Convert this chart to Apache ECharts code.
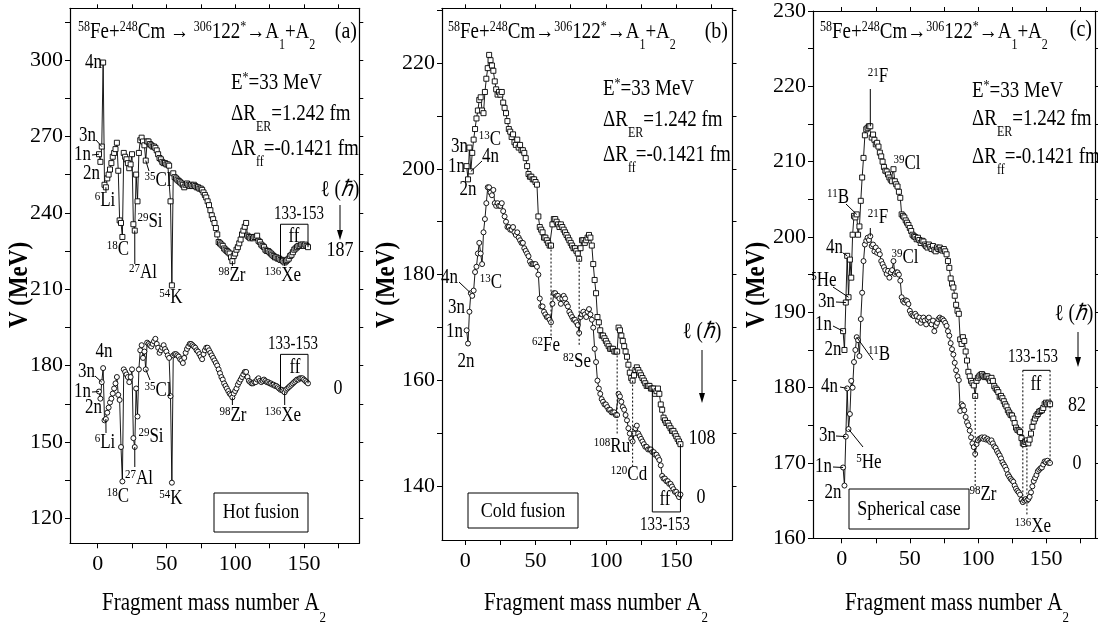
<!DOCTYPE html>
<html>
<head>
<meta charset="utf-8">
<script src="https://cdn.jsdelivr.net/npm/echarts@6/dist/echarts.min.js"></script>
<style>
  html, body { margin: 0; background: #fff; }
  #chart { width: 1098px; height: 632px; }
</style>
</head>
<body>
<div id="chart"></div>
<script>
// fragment mass number A2
const massA = [
  1,2,3,4,5,6,7,8,9,10,11,12,13,14,15,16,17,18,19,20,
  21,22,23,24,25,26,27,28,29,30,31,32,33,34,35,36,37,38,39,40,
  41,42,43,44,45,46,47,48,49,50,51,52,53,54,55,56,57,58,59,60,
  61,62,63,64,65,66,67,68,69,70,71,72,73,74,75,76,77,78,79,80,
  81,82,83,84,85,86,87,88,89,90,91,92,93,94,95,96,97,98,99,100,
  101,102,103,104,105,106,107,108,109,110,111,112,113,114,115,116,117,118,119,120,
  121,122,123,124,125,126,127,128,129,130,131,132,133,134,135,136,137,138,139,140,
  141,142,143,144,145,146,147,148,149,150,151,152,153
];

// (a) hot fusion, l = 187 and l = 0
const hotL187 = [
  263,260,266,299,251,250,253.5,255,257,259.5,
  262,263.5,265,267.5,256.5,237,236,230.5,263.5,262,
  261,259.5,257.5,259,263,235.5,233,255,244.5,263.5,
  268.5,269.5,268,266.5,260.5,268,268,267,266.5,266,
  266,265.5,264.5,263,261.5,261,260,259.5,259.5,259,
  259,258.5,244.5,211.5,255.5,254,253.5,253,252.5,252,
  251.5,251,250,251,251.5,251,250.5,251,250.5,251,
  250.5,250,250,249.5,249.5,249,248,247,246,244.5,
  243,241,239,237.5,236,234,231.5,228.5,228,227.5,
  227,226,225.5,225,224.5,224,222.5,221,223,224,
  225.5,226.5,228,229.5,231.5,233,234.5,236,231,230.5,
  230,230.5,230,230.5,230.5,231,229,228.5,227.5,227,
  226.5,225.5,225,225,224.5,224,223.5,223,222.5,222.5,
  222,222,221.5,221.5,221,220.5,221,221.5,222,223,
  223.5,224.5,225.5,226,226.5,227,227,227.5,227.5,227,
  227.5,227,226.5
];
const hotL0 = [
  169.8,167,173.5,179,158.5,159,161.5,163.5,165.5,167,
  169,171,173,175.5,168.5,166.5,148,134.5,178.5,177.5,
  176.5,175.5,173.5,175.5,178.5,151.5,148,171,160,178.5,
  186,188,183,185.5,178.5,189,188.5,188,187.5,188.5,
  189.5,190.5,188.5,187,185,186,187,188,186.5,185.5,
  184,183,168,134,184,184.5,184.5,184,183.5,182.5,
  182,181,183,185,186.5,187.5,188.5,188.5,188,187.5,
  187,186,185.5,184.5,183.5,182.5,184.5,186,187,187,
  186,185,184,183,182,181,180,178.5,177,175.5,
  174.5,173,172,171,170,169,168.5,167.5,169,170,
  171,172.5,173.5,174.5,175.5,176.5,177.5,177.5,175.5,174,
  173.5,173,173,173.5,173.5,174.5,175,174,173.5,174,
  174.5,174,173.5,173.5,173,173,172.5,172.5,172,172,
  171.5,171,170.5,170.5,170,169.5,170.5,171,171.5,172,
  172.5,173,173.5,174,174.5,174.5,175,175,175,174.5,
  174,173.5,173
];

// (b) cold fusion, l = 108 and l = 0
const coldL108 = [
  200.5,198,204,199.5,203,205.5,207.5,209.5,211,213,
  213.5,211,210.5,214.5,217,219,221.5,220.5,219.5,218.5,
  216.5,215,214,214.5,214,214.5,212.5,211.5,210.5,209,
  207.5,207,206,206.5,205,204.5,205.5,204,204.5,203.5,
  203.5,203,202,200.5,199,198.5,198.5,198,198,197.5,
  197,191,189,188.5,188,187,187,186.5,186,185.5,
  185.5,189.5,190.5,190.5,190,189.5,189,189.5,189,188.5,
  188,187.5,187,186.5,186,185.5,185,185,184.5,184,
  183,185,186.5,186.5,186,186.5,187,187.5,187,185.5,
  182,179,176.5,172,171,169.5,168.5,168.5,168,167.5,
  167,166.5,166,166,166,165.5,165.5,165.5,170,169.5,
  168.5,167.5,166.5,165.5,164.5,163,161.5,160.5,160,161,
  162,162.5,162,161.5,161,160.5,160,159.5,159,159,
  159,158.5,158.5,158.5,157.5,158,158.5,157.5,155.5,154.5,
  153,152.5,152,152,151.5,151,150.5,150.5,150,149.5,
  149,148.5,148
];
const coldL0 = [
  169.5,167,173,176.5,176,177,180.5,181.5,184,186,
  184,182,188,190.5,193.5,196.5,196.5,195.5,195,196,
  193.5,193,193.5,193,193,193.5,192,191,190,189,
  189,188.5,188.5,189,188,187.5,188,187,186.5,186,
  186,185,184.5,184,183.5,182.5,182,182,182,182,
  181.5,180,175.5,174,174,173,172.5,172,172,171.5,
  171,174.5,176.5,176.5,176,176,175.5,174.5,175.5,176,
  175.5,174.5,174,173,172.5,172,171.5,171.5,171,170.5,
  169,172,172.5,173,172.5,172,173,173.5,172.5,171.5,
  170,166,163.5,160,158.5,157.5,156.5,156,155.5,155.5,
  155,154.5,154.5,154,154,154,153.5,153.5,157.5,157,
  156,155,154.5,153.5,152.5,151,150,149,148.5,150,
  151,151.5,150,149.5,149,148.5,148,147.5,147.5,147,
  147,147,146.5,146.5,146,146,145.5,145,144,142,
  141.5,141.5,141,141,140.5,140.5,140,139.5,139,139,
  138.5,138,138.5
];

// (c) spherical case, l = 82 and l = 0
const sphL82 = [
  187.5,185,191.3,197.5,192,197,194.6,200.3,202.8,202.6,
  203,200.3,201.4,204.8,207.9,210.5,213.5,214.3,214.5,214.7,
  214.7,213.2,213.6,212.9,212.3,212.5,212,211.2,210.7,210,
  209.3,208.8,208.7,208.3,207.9,207.6,207.4,209,207.4,207,
  206.7,206,205.2,203,202.8,202.6,202.2,201.9,201.6,201.2,
  200.8,200.3,200.1,200,199.7,199.9,199.6,199.2,199.5,199.4,
  199,198.8,198.6,199,198.7,198.4,198.8,198.3,198.1,198.6,
  198.4,198.6,198.3,198.2,198.4,198.1,197.7,196.8,195.9,194.5,
  193.8,193.3,192.2,191,190.2,189.8,186.4,185.8,186.7,186.2,
  184.8,183.6,182.1,181.5,180.9,180.6,180.3,178.9,180.9,181.3,
  181.5,181.7,181.8,181.6,181.4,181.5,181.5,181.2,180.9,181.3,
  180.9,180.2,179.9,179.7,179.4,178.8,178.9,178.6,178.2,177.8,
  177.5,177,176.7,176.4,176.3,175.9,175.3,174.7,174.4,174.3,
  174.1,173.3,172.6,172.5,172.8,173,172.6,173.1,173.9,174.8,
  175.5,175.9,176.3,176.5,176.8,176.9,177,177.3,177.8,178,
  177.8,178,177.8
];
const sphL0 = [
  169.4,167,173.5,179.9,174.5,176.5,180.9,180,183.4,185,
  186.7,186.3,184.2,189.1,192.6,196.8,199,199.5,199.9,199.6,
  200.1,198.8,199,198.1,198.6,197.9,198.2,197.7,196.8,196.4,
  196,195.6,195.1,195.5,194.6,195.3,195.6,196.8,195.1,195.3,
  195.3,195,194.2,192,191.5,191.3,191.6,191.5,191.1,190.2,
  189.8,189.6,189.5,189.8,189.5,188.9,189.3,188.6,189,189.3,
  188.9,188.4,189.1,189.3,188.7,188.4,188.9,187.5,188.2,188.6,
  189.1,189.3,189.1,189.1,188.9,188.6,188.2,187.5,186.9,185.9,
  185.1,184.4,183.3,182.3,181.5,181,176.9,177.8,177.6,177,
  176.1,175.4,175,174.3,173.4,172.6,172.1,171.2,172.5,173,
  173.2,173.3,173.4,173.2,173.4,173.1,173.2,173,172.8,173,
  172.6,172.2,172,171.6,171.3,171,170.6,170.1,169.8,169.5,
  169.1,168.5,168.2,167.9,167.7,167.5,167,166.6,166.3,166.1,
  165.8,165.1,164.8,165,165.2,165,165.2,165.5,166.1,166.9,
  167.6,168,168.4,168.9,169.1,169.3,169.4,169.8,170.2,170.1,
  170.3,170,170
];

// axis ticks and labels
const xTicks = [0, 25, 50, 75, 100, 125, 150, 175];
const xLabels = [0, 50, 100, 150];
const yTicksA = [120,135,150,165,180,195,210,225,240,255,270,285,300,315];
const yLabelsA = [120,150,180,210,240,270,300];
const yTicksB = [140,150,160,170,180,190,200,210,220,230];
const yLabelsB = [140,160,180,200,220];
const yTicksC = [160,165,170,175,180,185,190,195,200,205,210,215,220,225,230];
const yLabelsC = [160,170,180,190,200,210,220,230];

const F = '"Liberation Serif","Times New Roman",serif';

const panels = [
  { grid: { left: 70, top: 8.3, width: 289.3, height: 535 }, x: [-20.1, 190.3], y: [110.2, 320.3],
    ticks: yTicksA, labels: yLabelsA, up: hotL187, lo: hotL0 },
  { grid: { left: 442, top: 8.3, width: 290.5, height: 531.7 }, x: [-16.5, 190], y: [129.9, 230.3],
    ticks: yTicksB, labels: yLabelsB, up: coldL108, lo: coldL0 },
  { grid: { left: 813, top: 10, width: 282, height: 528.3 }, x: [-21.1, 186], y: [160, 230],
    ticks: yTicksC, labels: yLabelsC, up: sphL82, lo: sphL0 }
];

const axisLine = { onZero: false, lineStyle: { color: '#000', width: 1.2 } };
const tickStyle = { color: '#000', width: 1 };

const grids = [], xAxes = [], yAxes = [], series = [];
panels.forEach((p, g) => {
  grids.push(p.grid);
  xAxes.push({
    type: 'value', gridIndex: g, min: p.x[0], max: p.x[1],
    axisLine: axisLine, splitLine: { show: false },
    axisTick: { length: 5, customValues: xTicks, lineStyle: tickStyle },
    axisLabel: { customValues: xLabels, fontFamily: F, fontSize: 22, color: '#000', margin: 10 }
  });
  xAxes.push({
    type: 'value', gridIndex: g, position: 'top', min: p.x[0], max: p.x[1],
    axisLine: axisLine, splitLine: { show: false },
    axisTick: { length: 4, customValues: xTicks, lineStyle: tickStyle },
    axisLabel: { show: false }
  });
  yAxes.push({
    type: 'value', gridIndex: g, min: p.y[0], max: p.y[1],
    axisLine: axisLine, splitLine: { show: false },
    axisTick: { length: 5, customValues: p.ticks, lineStyle: tickStyle },
    axisLabel: { customValues: p.labels, fontFamily: F, fontSize: 22, color: '#000', margin: 7 }
  });
  yAxes.push({
    type: 'value', gridIndex: g, position: 'right', min: p.y[0], max: p.y[1],
    axisLine: axisLine, splitLine: { show: false },
    axisTick: { length: 4, customValues: p.ticks, lineStyle: tickStyle },
    axisLabel: { show: false }
  });
  [[p.up, 'rect'], [p.lo, 'circle']].forEach(([vals, sym]) => {
    series.push({
      type: 'line', xAxisIndex: 2 * g, yAxisIndex: 2 * g,
      data: massA.map((a, i) => [a, vals[i]]),
      symbol: sym, symbolSize: 5, showAllSymbol: true,
      lineStyle: { color: '#000', width: 0.9 },
      itemStyle: { color: '#fff', borderColor: '#000', borderWidth: 0.9 },
      emphasis: { disabled: true }
    });
  });
});

const chart = echarts.init(document.getElementById('chart'));
chart.setOption({
  animation: false,
  backgroundColor: '#fff',
  grid: grids, xAxis: xAxes, yAxis: yAxes, series: series
});

// ---- annotations ----
function richFor(size, weight) {
  const s = Math.round(size * 0.62);
  const w = weight || 'normal';
  return {
    n: { fontSize: size, fontFamily: F, fontWeight: w, height: 2 * size, lineHeight: 2 * size, fill: '#000' },
    i: { fontSize: size, fontFamily: F, fontStyle: 'italic', height: 2 * size, lineHeight: 2 * size, fill: '#000' },
    s: { fontSize: s, fontFamily: F, height: 1.55 * size, lineHeight: 1.55 * size, verticalAlign: 'top', fill: '#000' },
    b: { fontSize: s, fontFamily: F, height: 0.8 * size, lineHeight: 0.8 * size, verticalAlign: 'bottom', fill: '#000' }
  };
}
function T(x, y, text, size, align, rot, weight) {
  return {
    type: 'text', x: x, y: y, scaleY: 1.2, rotation: rot || 0, silent: true, z: 10,
    style: { text: text, rich: richFor(size, weight), fontSize: size, fontFamily: F, fill: '#000',
             align: align || 'center', verticalAlign: 'middle',
             textAlign: align || 'center', textVerticalAlign: 'middle' }
  };
}
function L(x1, y1, x2, y2, dash) {
  return { type: 'line', silent: true, z: 9, shape: { x1, y1, x2, y2 },
           style: { stroke: '#000', lineWidth: 1, lineDash: dash ? [2, 2] : null } };
}
function PL(points) {
  return { type: 'polyline', silent: true, z: 9, shape: { points },
           style: { stroke: '#000', lineWidth: 1, fill: null } };
}
function R(x, y, w, h) {
  return { type: 'rect', silent: true, z: 9, shape: { x, y, width: w, height: h },
           style: { stroke: '#000', lineWidth: 1, fill: null } };
}
function arrow(x, y1, y2) {
  return [L(x, y1, x, y2 - 8),
    { type: 'polygon', silent: true, z: 9, shape: { points: [[x - 3, y2 - 10], [x + 3, y2 - 10], [x, y2]] },
      style: { fill: '#000' } }];
}
const P = (g, a, v) => chart.convertToPixel({ seriesIndex: 2 * g }, [a, v]);
const val = (arr, a) => arr[massA.indexOf(a)];
function lead(g, arr, a, tx, ty) {
  const p = P(g, a, val(arr, a));
  return L(p[0], p[1], tx, ty);
}
function ffBox(g, arr, top) {
  return PL([P(g, 133, val(arr, 133)), P(g, 133, top), P(g, 153, top), P(g, 153, val(arr, 153))]);
}
function dots(g, a, v1, v2) {
  const p1 = P(g, a, v1), p2 = P(g, a, v2);
  return L(p1[0], p1[1], p2[0], p2[1], true);
}

const TITLE_A = '{s|58}{n|Fe+}{s|248}{n|Cm → }{s|306}{n|122}{s|*}{n|→A}{b|1}{n|+A}{b|2}';
const TITLE_B = '{s|58}{n|Fe+}{s|248}{n|Cm→}{s|306}{n|122}{s|*}{n|→A}{b|1}{n|+A}{b|2}';
const EST = '{n|E}{s|*}{n|=33 MeV}';
const DRER = '{n|ΔR}{b|ER}{n|=1.242 fm}';
const DRFF = '{n|ΔR}{b|ff}{n|=-0.1421 fm}';
const ELL = '{n|ℓ (}{i|ℏ}{n|)}';
const XNAME = '{n|Fragment mass number A}{b|2}';
const YNAME = '{n|V (MeV)}';

const gfx = [];
// ---- panel (a) ----
gfx.push(
  T(78, 32, TITLE_A, 19, 'left'), T(357, 32, '{n|(a)}', 20, 'right'),
  T(231, 83, EST, 19, 'left'), T(231, 114, DRER, 19, 'left'), T(231, 149, DRFF, 19, 'left'),
  T(340, 190, ELL, 19), T(340, 250, '{n|187}', 18),
  T(299, 214, '{n|133-153}', 15), T(294, 237, '{n|ff}', 17),
  T(102, 63, '{n|4n}', 17, 'right'), T(96, 136, '{n|3n}', 17, 'right'),
  T(91, 155, '{n|1n}', 17, 'right'), T(100, 174, '{n|2n}', 17, 'right'),
  T(105, 201, '{s|6}{n|Li}', 17), T(118, 250, '{s|18}{n|C}', 17),
  T(143, 273, '{s|27}{n|Al}', 17), T(150, 222, '{s|29}{n|Si}', 17),
  T(158, 181, '{s|35}{n|Cl}', 17), T(171, 298, '{s|54}{n|K}', 17),
  T(232, 276, '{s|98}{n|Zr}', 17), T(283, 276, '{s|136}{n|Xe}', 17),
  T(104, 352, '{n|4n}', 17), T(95, 372, '{n|3n}', 17, 'right'),
  T(91, 392, '{n|1n}', 17, 'right'), T(102, 408, '{n|2n}', 17, 'right'),
  T(105, 443, '{s|6}{n|Li}', 17), T(118, 497, '{s|18}{n|C}', 17),
  T(139, 479, '{s|27}{n|Al}', 17), T(151, 437, '{s|29}{n|Si}', 17),
  T(158, 391, '{s|35}{n|Cl}', 17), T(171, 499, '{s|54}{n|K}', 17),
  T(233, 416, '{s|98}{n|Zr}', 17), T(283, 416, '{s|136}{n|Xe}', 17),
  T(293, 344, '{n|133-153}', 15), T(295, 368, '{n|ff}', 17),
  T(338, 388, '{n|0}', 18), T(261, 512, '{n|Hot fusion}', 18), R(214, 493, 94, 39),
  T(214, 603, XNAME, 21), T(20, 285, YNAME, 23, 'center', Math.PI / 2, 'bold'),
  lead(0, hotL187, 3, 96, 140), lead(0, hotL187, 1, 92, 155), lead(0, hotL187, 6, 106, 193),
  lead(0, hotL187, 27, 134.8, 264), lead(0, hotL187, 35, 149, 171),
  lead(0, hotL187, 98, 232.4, 266), lead(0, hotL187, 136, 284.7, 266),
  lead(0, hotL0, 3, 95, 376), lead(0, hotL0, 1, 92, 392), lead(0, hotL0, 6, 106, 433),
  lead(0, hotL0, 27, 134.8, 467), lead(0, hotL0, 35, 150, 380),
  lead(0, hotL0, 98, 232.4, 405), lead(0, hotL0, 136, 284.7, 405),
  ffBox(0, hotL187, 235.5), ffBox(0, hotL0, 184.4),
  ...arrow(340, 205, 240)
);
// ---- panel (b) ----
gfx.push(
  T(448, 32, TITLE_B, 19, 'left'), T(728, 32, '{n|(b)}', 20, 'right'),
  T(603, 89, EST, 19, 'left'), T(603, 120, DRER, 19, 'left'), T(603, 155, DRFF, 19, 'left'),
  T(468, 147, '{n|3n}', 17, 'right'), T(465, 167, '{n|1n}', 17, 'right'),
  T(482, 157, '{n|4n}', 17, 'left'), T(468, 190, '{n|2n}', 17),
  T(490, 140, '{s|13}{n|C}', 17),
  T(458, 278, '{n|4n}', 17, 'right'), T(491, 283, '{s|13}{n|C}', 17),
  T(465, 308, '{n|3n}', 17, 'right'), T(463, 332, '{n|1n}', 17, 'right'),
  T(466, 362, '{n|2n}', 17),
  T(546, 346, '{s|62}{n|Fe}', 17), T(577, 362, '{s|82}{n|Se}', 17),
  T(612, 447, '{s|108}{n|Ru}', 17), T(629, 475, '{s|120}{n|Cd}', 17),
  T(702, 332, ELL, 19), T(702, 438, '{n|108}', 18), T(701, 497, '{n|0}', 18),
  T(665, 500, '{n|ff}', 17), T(665, 525, '{n|133-153}', 15),
  T(523, 511, '{n|Cold fusion}', 18), R(468, 493, 110, 35),
  T(596, 603, XNAME, 21), T(387, 285, YNAME, 23, 'center', Math.PI / 2, 'bold'),
  lead(1, coldL108, 4, 482, 161), lead(1, coldL0, 4, 459, 282),
  dots(1, 61, val(coldL108, 61), 168.5), dots(1, 81, val(coldL108, 81), 166.5),
  dots(1, 108, val(coldL108, 108), 150), dots(1, 119, val(coldL108, 119), 143.5),
  ffBox(1, coldL108, 135.2),
  ...arrow(702, 350, 403)
);
// ---- panel (c) ----
gfx.push(
  T(820, 32, TITLE_B, 19, 'left'), T(1092, 30, '{n|(c)}', 20, 'right'),
  T(972, 91, EST, 19, 'left'), T(972, 119, DRER, 19, 'left'), T(972, 157, DRFF, 19, 'left'),
  T(878, 77, '{s|21}{n|F}', 17), T(907, 164, '{s|39}{n|Cl}', 17),
  T(838, 198, '{s|11}{n|B}', 17), T(843, 248, '{n|4n}', 17, 'right'),
  T(824, 281, '{s|5}{n|He}', 17), T(835, 302, '{n|3n}', 17, 'right'),
  T(832, 325, '{n|1n}', 17, 'right'), T(833, 350, '{n|2n}', 17),
  T(878, 218, '{s|21}{n|F}', 17), T(905, 258, '{s|39}{n|Cl}', 17),
  T(879, 355, '{s|11}{n|B}', 17), T(838, 387, '{n|4n}', 17, 'right'),
  T(836, 436, '{n|3n}', 17, 'right'), T(869, 463, '{s|5}{n|He}', 17),
  T(832, 467, '{n|1n}', 17, 'right'), T(833, 493, '{n|2n}', 17),
  T(983, 495, '{s|98}{n|Zr}', 17), T(1033, 527, '{s|136}{n|Xe}', 17),
  T(1036, 385, '{n|ff}', 17), T(1033, 357, '{n|133-153}', 15),
  T(1074, 314, ELL, 19), T(1077, 405, '{n|82}', 18), T(1077, 463, '{n|0}', 18),
  T(909, 509, '{n|Spherical case}', 18), R(849, 489, 120, 40),
  T(957, 603, XNAME, 21), T(757, 285, YNAME, 23, 'center', Math.PI / 2, 'bold'),
  lead(2, sphL82, 21, 870.3, 89), lead(2, sphL82, 11, 846, 204), lead(2, sphL82, 4, 843, 253),
  lead(2, sphL82, 5, 833, 287), lead(2, sphL82, 3, 836, 302), lead(2, sphL82, 1, 833, 326),
  lead(2, sphL0, 21, 870.3, 228), lead(2, sphL0, 11, 873, 360), lead(2, sphL0, 4, 840, 387),
  lead(2, sphL0, 5, 863, 447), lead(2, sphL0, 3, 836, 436), lead(2, sphL0, 1, 833, 467),
  dots(2, 98, val(sphL82, 98), 166.5), dots(2, 136, val(sphL82, 136), 163),
  dots(2, 133, 182.3, val(sphL0, 133)), dots(2, 153, 182.3, val(sphL0, 153)),
  (function () { const a = P(2, 133, 182.3), b = P(2, 153, 182.3); return L(a[0], a[1], b[0], b[1]); })(),
  ...arrow(1078, 332, 367)
);

chart.setOption({ graphic: { elements: gfx } });
</script>
</body>
</html>
